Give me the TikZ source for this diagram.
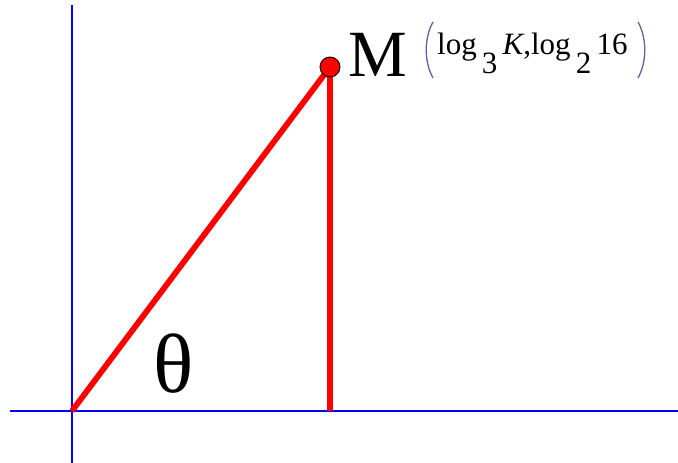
\documentclass[tikz,border=0pt]{standalone}
\usepackage{fontspec}
\setmainfont{Liberation Serif}
\tikzset{
  axis/.style={draw=blue, line width=2.6pt},
  segment/.style={draw=red, line width=5.8pt},
  paren/.style={draw=blue!25!gray, line width=1.3pt}
}
\begin{document}
\begin{tikzpicture}[x=1pt, y=1pt]
          \useasboundingbox (0,0) rectangle (678,463);
          \coordinate (O) at (72,52);
          \coordinate (M) at (330,396);
          \coordinate (H) at (330,52);
          \coordinate (ytop) at (72,458);
          \coordinate (ybot) at (72,0);
          \coordinate (xl) at (10,52);
          \coordinate (xr) at (678,52);
          \draw [axis] (ybot) -- (ytop);
          \draw [axis] (xl) -- (xr);
          \draw [segment] (O) -- (M);
          \draw [segment] (M) -- (H);
          \draw [fill=red, draw=black, line width=0.9pt] (M) circle [radius=10];
          \node [anchor=base west, inner sep=0pt, font=\fontsize{66}{70}\selectfont]
          (Mlab) at (348,386) {M};
          \node [anchor=base west, inner sep=0pt, font=\fontsize{84}{90}\selectfont]
          (theta) at (153,70) {θ};
          \node [anchor=base west, inner sep=0pt, font=\fontsize{31}{34}\selectfont]
          (coord) at (437,408) {log\raisebox{-19pt}{\,3}\,\textit{K},log\raisebox{-19pt}{\,2}\,16};
          \draw [paren] (433,441) .. controls (424,425) and (424,401) .. (433,385);
          \draw [paren] (638,441) .. controls (647,425) and (647,401) .. (638,385);
        \end{tikzpicture}
\end{document}
